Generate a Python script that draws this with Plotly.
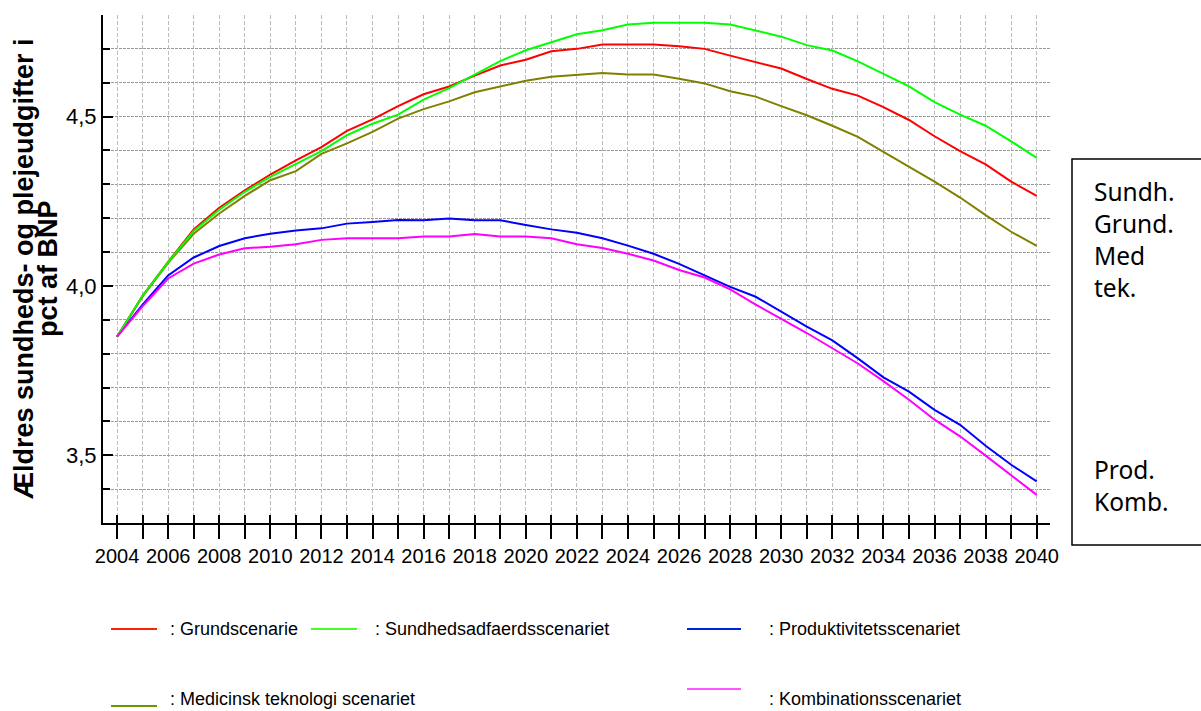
import plotly.graph_objects as go

# ---------------- data ----------------
years = list(range(2004, 2041))

grund = [3.85, 3.971, 4.071, 4.167, 4.231, 4.282, 4.329, 4.371, 4.41, 4.458,
         4.492, 4.531, 4.566, 4.589, 4.621, 4.651, 4.668, 4.693, 4.70,
         4.713, 4.713, 4.713, 4.708, 4.70, 4.68, 4.661, 4.642, 4.611, 4.582,
         4.562, 4.528, 4.49, 4.442, 4.398, 4.359, 4.308, 4.266]
sundh = [3.85, 3.971, 4.07, 4.162, 4.225, 4.278, 4.322, 4.359, 4.398, 4.445,
         4.479, 4.506, 4.55, 4.584, 4.624, 4.664, 4.696, 4.72, 4.743,
         4.755, 4.772, 4.777, 4.777, 4.777, 4.772, 4.755, 4.736, 4.711, 4.695,
         4.663, 4.626, 4.589, 4.543, 4.506, 4.473, 4.427, 4.378]
medtek = [3.85, 3.969, 4.068, 4.154, 4.214, 4.266, 4.312, 4.339, 4.39, 4.421,
          4.455, 4.494, 4.522, 4.545, 4.572, 4.589, 4.606, 4.618, 4.624,
          4.629, 4.624, 4.624, 4.612, 4.598, 4.575, 4.559, 4.531, 4.504, 4.473,
          4.44, 4.396, 4.352, 4.308, 4.261, 4.209, 4.16, 4.118]
prod = [3.85, 3.945, 4.031, 4.084, 4.118, 4.141, 4.154, 4.164, 4.17, 4.184,
        4.189, 4.195, 4.194, 4.199, 4.194, 4.194, 4.18, 4.167, 4.157,
        4.141, 4.119, 4.095, 4.065, 4.03, 3.997, 3.968, 3.924, 3.88, 3.839,
        3.786, 3.73, 3.688, 3.634, 3.59, 3.528, 3.472, 3.423]
komb = [3.85, 3.94, 4.022, 4.066, 4.093, 4.111, 4.116, 4.123, 4.136, 4.141,
        4.141, 4.141, 4.146, 4.146, 4.153, 4.146, 4.146, 4.141, 4.123,
        4.112, 4.095, 4.075, 4.047, 4.025, 3.99, 3.945, 3.903, 3.861, 3.816,
        3.771, 3.719, 3.664, 3.605, 3.556, 3.499, 3.44, 3.383]

legend_labels = [": Grundscenarie", ": Sundhedsadfaerdsscenariet",
                 ": Produktivitetsscenariet", ": Medicinsk teknologi scenariet",
                 ": Kombinationsscenariet"]
box_labels_top = ["Sundh.", "Grund.", "Med", "tek."]
box_labels_bottom = ["Prod.", "Komb."]
y_title_lines = ["Ældres sundheds- og plejeudgifter i", "pct af BNP"]

# ---------------- figure ----------------
W, H = 1201, 711
L, R, T, B = 103, 151, 15, 188
PW, PH = W - L - R, H - T - B


def px(x):
    return (x - L) / PW


def py(y):
    return (H - B - y) / PH


colors = {"grund": "#FF0000", "sundh": "#00FF00", "prod": "#0000FF",
          "medtek": "#808000", "komb": "#FF00FF"}
legend_key_colors = {"grund": "#FF2200", "sundh": "#44FF22", "prod": "#0022DD",
                     "medtek": "#669900", "komb": "#FF55FF"}

fig = go.Figure()
fig.add_trace(go.Scatter(x=years, y=medtek, mode="lines",
                         line=dict(color=colors["medtek"], width=2), showlegend=False))
fig.add_trace(go.Scatter(x=years, y=prod, mode="lines",
                         line=dict(color=colors["prod"], width=2), showlegend=False))
fig.add_trace(go.Scatter(x=years, y=grund, mode="lines",
                         line=dict(color=colors["grund"], width=2), showlegend=False))
fig.add_trace(go.Scatter(x=years, y=sundh, mode="lines",
                         line=dict(color=colors["sundh"], width=2), showlegend=False))
fig.add_trace(go.Scatter(x=years, y=komb, mode="lines", xaxis="x2",
                         line=dict(color=colors["komb"], width=2), showlegend=False))

xr = [2003.45, 2040.52]
tickfont = dict(family="Liberation Sans, Arial, sans-serif", size=20, color="black")

fig.update_layout(
    width=W, height=H,
    margin=dict(l=L, r=R, t=T, b=B, pad=0),
    paper_bgcolor="white", plot_bgcolor="white",
    separators=",.",
    hovermode=False,
    xaxis=dict(
        range=xr, tick0=2004, dtick=2, tickmode="linear",
        showgrid=True, gridcolor="#bdbdbd", griddash="4px,2px", gridwidth=1,
        ticks="outside", ticklen=14, tickwidth=2, tickcolor="black",
        tickfont=tickfont, automargin=False,
        showline=True, linecolor="black", linewidth=2,
        zeroline=False,
        minor=dict(dtick=1, tick0=2004, showgrid=True, gridcolor="#bdbdbd",
                   griddash="4px,2px", gridwidth=1,
                   ticks="outside", ticklen=14, tickwidth=2, tickcolor="black"),
    ),
    xaxis2=dict(
        range=xr, overlaying="x", tick0=2004, dtick=1, tickmode="linear",
        showgrid=False, showticklabels=False, showline=False, zeroline=False,
        ticks="inside", ticklen=8, tickwidth=2, tickcolor="black",
    ),
    yaxis=dict(
        range=[3.3, 4.8], tick0=3.5, dtick=0.5, tickmode="linear",
        tickformat=".1f", automargin=False,
        showgrid=True, gridcolor="#9a9a9a", griddash="3px,1px", gridwidth=1,
        ticks="inside", ticklen=10, tickwidth=2, tickcolor="black",
        tickfont=dict(family="Liberation Sans, Arial, sans-serif", size=22, color="black"),
        showline=True, linecolor="black", linewidth=2, zeroline=False,
        minor=dict(dtick=0.1, tick0=3.3, showgrid=True, gridcolor="#9a9a9a",
                   griddash="3px,1px", gridwidth=1,
                   ticks="inside", ticklen=7, tickwidth=2, tickcolor="black"),
    ),
)

# y-axis title, two tightly spaced lines
title_font = dict(family="Liberation Sans, Arial, sans-serif", size=27, color="black")
for line, xs in zip(y_title_lines, [24, 48]):
    fig.add_annotation(text="<b>%s</b>" % line, xref="paper", yref="paper",
                       x=px(xs), y=0.5, xanchor="center", yanchor="middle",
                       textangle=-90, showarrow=False, font=title_font)

# right-hand box with abbreviations
fig.add_shape(type="rect", xref="paper", yref="paper",
              x0=px(1072), x1=px(1240), y0=py(545), y1=py(159),
              line=dict(color="black", width=1.5), fillcolor="rgba(0,0,0,0)")
box_font = dict(family="Noto Sans, Liberation Sans, sans-serif", size=24.5, color="black")
fig.add_annotation(text="<br>".join(box_labels_top), xref="paper", yref="paper",
                   x=px(1092), y=py(173), xanchor="left", yanchor="top",
                   align="left", showarrow=False, font=box_font)
fig.add_annotation(text="<br>".join(box_labels_bottom), xref="paper", yref="paper",
                   x=px(1092), y=py(451), xanchor="left", yanchor="top",
                   align="left", showarrow=False, font=box_font)

# bottom legend (line keys + labels)
leg_font = dict(family="Liberation Sans, Arial, sans-serif", size=18, color="black")
leg_items = [
    (legend_key_colors["grund"], 111, 157, 629, 168, 629),
    (legend_key_colors["sundh"], 311, 357, 629, 373, 629),
    (legend_key_colors["prod"], 687, 741, 629, 767, 629),
    (legend_key_colors["medtek"], 111, 157, 706, 168, 699),
    (legend_key_colors["komb"], 687, 741, 689, 767, 699),
]
for label, (c, x0, x1, ly, tx, ty) in zip(legend_labels, leg_items):
    fig.add_shape(type="line", xref="paper", yref="paper",
                  x0=px(x0), x1=px(x1), y0=py(ly), y1=py(ly),
                  line=dict(color=c, width=2))
    fig.add_annotation(text=label, xref="paper", yref="paper",
                       x=px(tx), y=py(ty), xanchor="left", yanchor="middle",
                       showarrow=False, font=leg_font)

fig.write_html("out.html", config={"displayModeBar": False},
               post_script="document.body.style.margin='0px';")
